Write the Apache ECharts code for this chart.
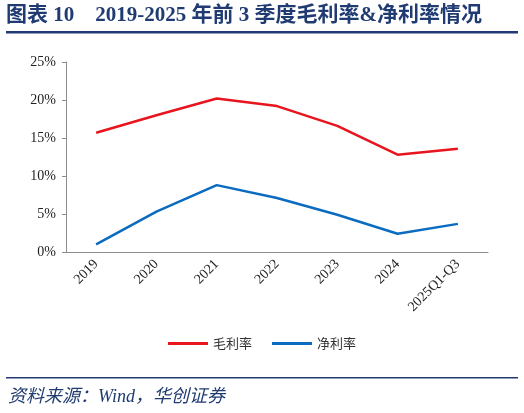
<!DOCTYPE html>
<html>
<head>
<meta charset="utf-8">
<script src="https://cdn.jsdelivr.net/npm/echarts@6/dist/echarts.min.js"></script>
<style>
  html, body { margin: 0; padding: 0; background: #fff; }
  #chart { width: 524px; height: 413px; }
</style>
</head>
<body>
<div id="chart"></div>
<script>
// 年份 / 季度
var categories = ['2019', '2020', '2021', '2022', '2023', '2024', '2025Q1-Q3'];
// 毛利率(%)
var grossMargin = [15.7, 18.0, 20.2, 19.2, 16.6, 12.8, 13.6];
// 净利率(%)
var netMargin = [1.0, 5.3, 8.8, 7.1, 4.9, 2.4, 3.7];
var yTicks = [0, 5, 10, 15, 20, 25];

var navy = '#1f3b72';
var axisColor = '#8c8c8c';

var option = {
  animation: false,
  graphic: [
    {
      type: 'text', left: 6, top: 5,
      style: {
        text: '图表 10    2019-2025 年前 3 季度毛利率&净利率情况',
        fill: navy,
        font: 'bold 21px "Liberation Serif", "Noto Sans CJK SC"'
      }
    },
    { type: 'rect', shape: { x: 6, y: 31, width: 512, height: 2.5 }, style: { fill: navy } },
    { type: 'rect', shape: { x: 6, y: 377, width: 512, height: 1.5 }, style: { fill: navy } },
    {
      type: 'text', left: 8, top: 388,
      style: {
        text: '资料来源：Wind，华创证券',
        fill: navy,
        font: 'italic 18px "Liberation Serif", "Noto Sans CJK SC"'
      }
    }
  ],
  grid: { left: 66, right: 36, top: 62, bottom: 161 },
  legend: {
    bottom: 58,
    left: 'center',
    itemWidth: 40,
    itemHeight: 3,
    itemGap: 20,
    icon: 'rect',
    textStyle: { color: '#333', fontSize: 13, fontFamily: 'Noto Sans CJK SC' },
    data: ['毛利率', '净利率']
  },
  xAxis: {
    type: 'category',
    data: categories,
    boundaryGap: true,
    axisLine: { lineStyle: { color: axisColor, width: 1 } },
    axisTick: { length: 4, lineStyle: { color: axisColor } },
    axisLabel: {
      rotate: 45, margin: 10, color: '#222', fontSize: 14,
      fontFamily: 'Liberation Serif', interval: 0
    }
  },
  yAxis: {
    type: 'value',
    min: yTicks[0],
    max: yTicks[yTicks.length - 1],
    interval: 5,
    splitLine: { show: false },
    axisLine: { show: true, lineStyle: { color: axisColor, width: 1 } },
    axisTick: { show: true, length: 4, lineStyle: { color: axisColor } },
    axisLabel: {
      color: '#222', fontSize: 14, margin: 10,
      fontFamily: 'Liberation Serif',
      formatter: function (v) { return v + '%'; }
    }
  },
  series: [
    {
      name: '毛利率', type: 'line', data: grossMargin,
      symbol: 'none', color: '#e8141e',
      lineStyle: { width: 2.5, color: '#e8141e' }
    },
    {
      name: '净利率', type: 'line', data: netMargin,
      symbol: 'none', color: '#0a6bc0',
      lineStyle: { width: 2.5, color: '#0a6bc0' }
    }
  ]
};

var myChart = echarts.init(document.getElementById('chart'));
myChart.setOption(option);
</script>
</body>
</html>
